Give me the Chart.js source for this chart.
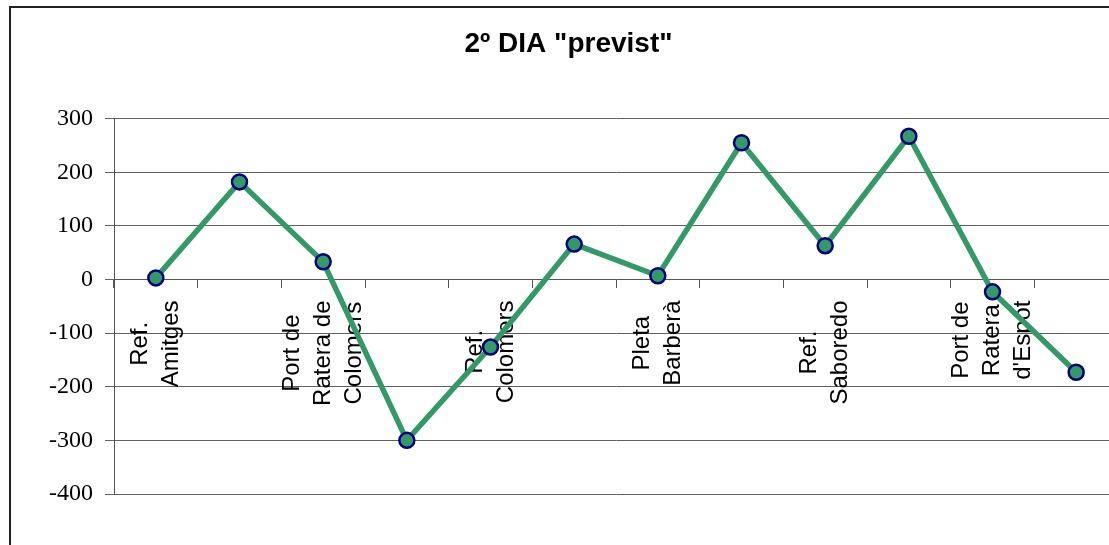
<!DOCTYPE html>
<html>
<head>
<meta charset="utf-8">
<script src="https://cdn.jsdelivr.net/npm/chart.js@4/dist/chart.umd.min.js"></script>
<style>
  html, body { margin: 0; padding: 0; background: #fff; overflow: hidden; }
  #frame {
    position: absolute; left: 9px; top: 6px;
    width: 1140px; height: 560px;
    border-left: 2px solid #222; border-top: 2px solid #222;
  }
</style>
</head>
<body>
<div id="frame">
  <canvas id="chart" width="1117" height="539"></canvas>
</div>
<script>
// category labels (Excel only showed every other one)
const stops = [
  'Ref.\nAmitges', '',
  'Port de\nRatera de\nColomers', '',
  'Ref.\nColomers', '',
  'Pleta\nBarberà', '',
  'Ref.\nSaboredo', '',
  "Port de\nRatera\nd'Espot", ''
];
// desnivell (m)
const desnivell = [3, 182, 33, -300, -126, 66, 7, 255, 63, 267, -23, -173];
const yTicks = { min: -400, max: 300, step: 100 };

// draws the rotated, centred multi-line category labels under the 0 line
const catLabels = {
  id: 'catLabels',
  beforeDatasetsDraw(chart) {
    const { ctx, scales: { x, y } } = chart;
    const base = y.getPixelForValue(0);
    ctx.save();
    ctx.font = '24px "Liberation Sans", Arial, sans-serif';
    ctx.fillStyle = '#000';
    ctx.textAlign = 'center';
    ctx.textBaseline = 'middle';
    stops.forEach((label, i) => {
      if (!label) return;
      const lines = label.split('\n');
      const w = Math.max(...lines.map(l => ctx.measureText(l).width));
      ctx.save();
      ctx.translate(x.getPixelForValue(i), base + 21 + w / 2);
      ctx.rotate(-Math.PI / 2);
      lines.forEach((l, j) => ctx.fillText(l, 0, (j - (lines.length - 1) / 2) * 31));
      ctx.restore();
    });
    ctx.restore();
  }
};

new Chart(document.getElementById('chart'), {
  type: 'line',
  data: {
    labels: stops,
    datasets: [{
      data: desnivell,
      borderColor: '#339966',
      borderWidth: 5.5,
      backgroundColor: '#339966',
      pointBackgroundColor: '#339966',
      pointBorderColor: '#000080',
      pointBorderWidth: 2.5,
      pointRadius: 7.5,
      pointHoverRadius: 7.5,
      tension: 0,
      fill: false
    }]
  },
  options: {
    responsive: false,
    animation: false,
    events: [],
    layout: { padding: { left: 0, right: 2, top: 0, bottom: 53 } },
    plugins: {
      legend: { display: false },
      tooltip: { enabled: false },
      title: {
        display: true,
        text: '2º DIA "previst"',
        color: '#000',
        font: { family: '"Liberation Sans", Arial, sans-serif', size: 28, weight: 'bold', lineHeight: 1.2 },
        padding: { top: 19, bottom: 58 }
      }
    },
    scales: {
      x: {
        type: 'category',
        position: { y: 0 },
        offset: true,
        grid: { offset: true, drawOnChartArea: false, drawTicks: true, tickLength: 8, color: '#555' },
        border: { display: true, color: '#555', width: 1 },
        ticks: { display: false, autoSkip: false }
      },
      y: {
        min: yTicks.min,
        max: yTicks.max,
        afterFit(scale) { scale.width = 103; },
        grid: { color: '#606060', lineWidth: 1, drawTicks: true, tickLength: 9 },
        border: { display: true, color: '#555', width: 1 },
        ticks: {
          stepSize: yTicks.step,
          padding: 12,
          color: '#000',
          font: { family: '"Liberation Serif", "Times New Roman", serif', size: 24 }
        }
      }
    }
  },
  plugins: [catLabels]
});
</script>
</body>
</html>
